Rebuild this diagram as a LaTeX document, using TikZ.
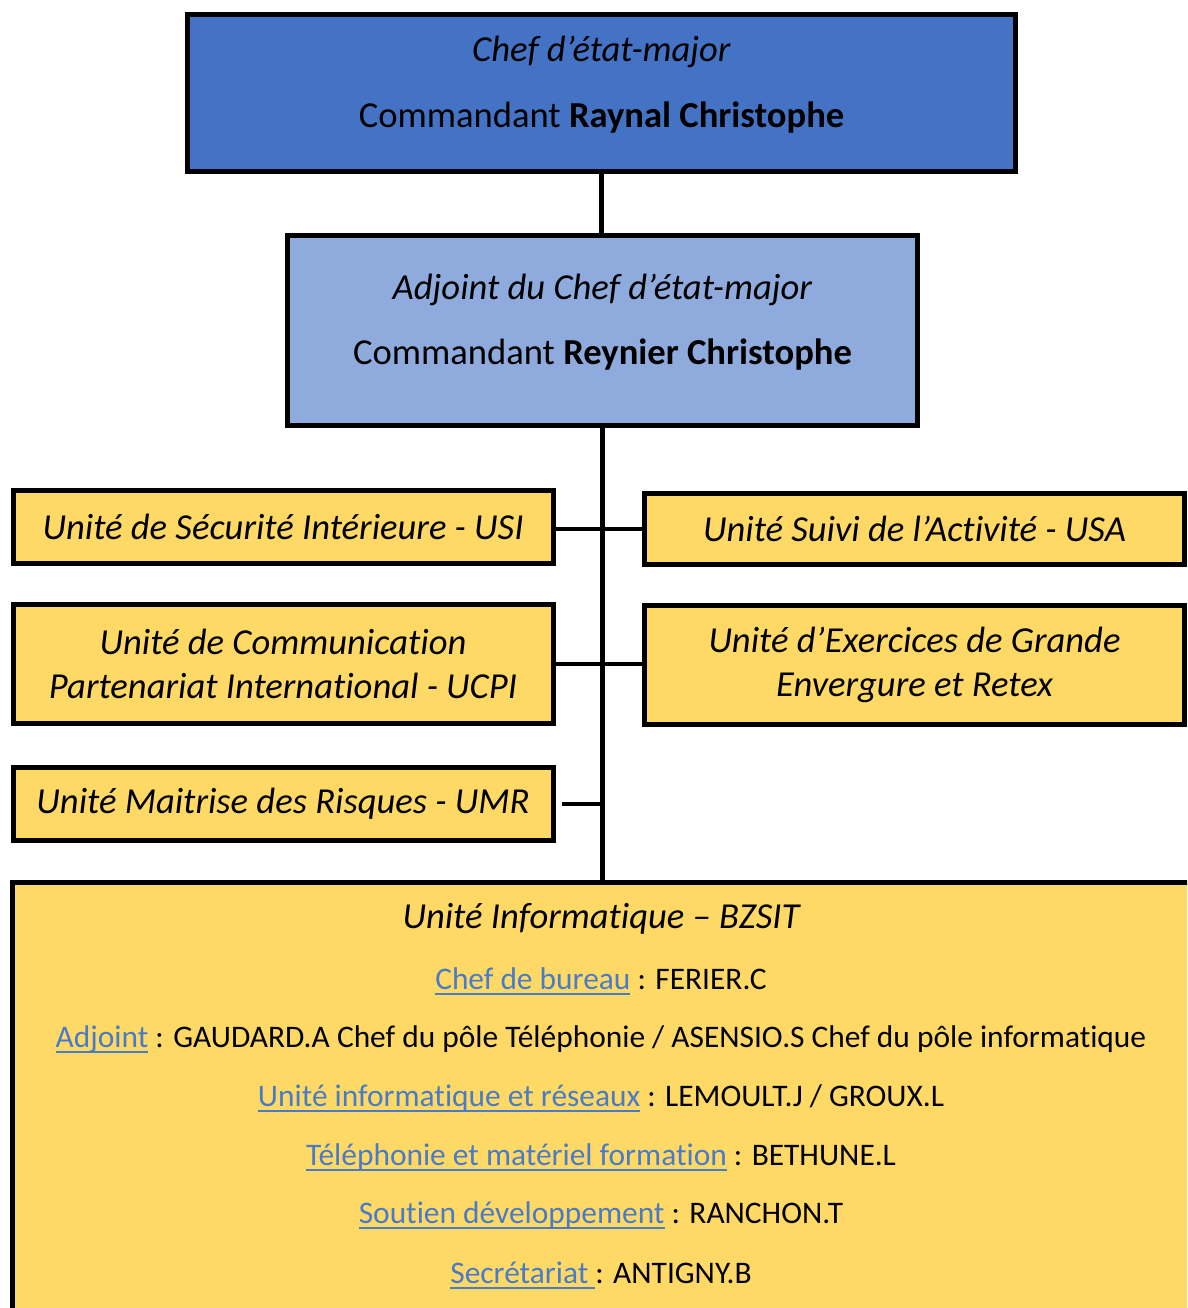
\documentclass[tikz,border=0pt]{standalone}
\usepackage{fontspec}
\setmainfont{Carlito}[Ligatures=NoCommon]
\usepackage{xcolor}
\usepackage{tikz}
\usetikzlibrary{positioning}

\definecolor{chefblue}{HTML}{4472C4}
\definecolor{adjblue}{HTML}{8FAADC}
\definecolor{unitgold}{HTML}{FFD966}
\definecolor{linkblue}{HTML}{4A7BC8}

\newcommand{\boxfont}{\fontsize{36.6}{44}\selectfont}
\newcommand{\rowfont}{\fontsize{31.4}{36}\selectfont}
% underlined link text, Word style
\newcommand{\lien}[1]{{\color{linkblue}\setbox0\hbox{#1}\rlap{\rule[-6pt]{\wd0}{1.6pt}}\box0}}

\begin{document}
\begin{tikzpicture}[x=1pt, y=-1pt]

    % Style for boxes
    \tikzset{
        orgbox/.style={rectangle, draw=black, line width=5pt, inner sep=0pt, align=center, font=\boxfont},
        chefbox/.style={orgbox, fill=chefblue, text depth=22pt},
        adjbox/.style={orgbox, fill=adjblue, text depth=22pt},
        unitbox/.style={orgbox, fill=unitgold, minimum width=540pt},
        rowtext/.style={inner sep=0pt, anchor=base, font=\rowfont},
        link/.style={line width=5pt}
    }

    \clip (0,0) rectangle (1187,1308);

    % --- DRAW BOXES ---
    \node[chefbox, minimum width=828pt, minimum height=157pt] (chef) at (601.5,93)
        {\textit{Chef d’état-major}\\[22pt] Commandant \textbf{Raynal Christophe}};
    \node[adjbox, minimum width=630pt, minimum height=190pt] (adj) at (602.5,330.5)
        {\textit{Adjoint du Chef d’état-major}\\[21pt] Commandant \textbf{Reynier Christophe}};

    % left column
    \node[unitbox, minimum height=73pt] (usi) at (283,527) {\textit{Unité de Sécurité Intérieure - USI}};
    \node[unitbox, minimum height=119pt] (ucpi) at (283,664) {\textit{Unité de Communication}\\\textit{Partenariat International - UCPI}};
    \node[unitbox, minimum height=73pt] (umr) at (283,804) {\textit{Unité Maitrise des Risques - UMR}};

    % right column
    \node[unitbox, minimum height=71pt] (usa) at (914.5,529) {\textit{Unité Suivi de l’Activité - USA}};
    \node[unitbox, minimum height=119pt] (uege) at (914.5,665) {\textit{Unité d’Exercices de Grande}\\\textit{Envergure et Retex}};

    % BZSIT (runs off the page)
    \node[unitbox, anchor=north west, minimum width=1250pt, minimum height=500pt] (bz) at (10,880) {};
    \node[rowtext, font=\boxfont\itshape] (bztitle) at (601,928) {Unité Informatique – BZSIT};
    \node[rowtext] (row1) at (601,989) {\lien{Chef de bureau} : FERIER.C};
    \node[rowtext] (row2) at (601,1047) {\lien{Adjoint} : GAUDARD.A Chef du pôle Téléphonie / ASENSIO.S Chef du pôle informatique};
    \node[rowtext] (row3) at (601,1106) {\lien{Unité informatique et réseaux} : LEMOULT.J / GROUX.L};
    \node[rowtext] (row4) at (601,1165) {\lien{Téléphonie et matériel formation} : BETHUNE.L};
    \node[rowtext] (row5) at (601,1223) {\lien{Soutien développement} : RANCHON.T};
    \node[rowtext] (row6) at (601,1283) {\lien{Secrétariat }: ANTIGNY.B};

    % --- CONNECTIONS ---
    \draw[link] (chef.south) -- (chef.south |- adj.north);
    \draw[link] (adj.south) -- (adj.south |- bz.north);
    \draw[link, line width=4pt] (usa.west -| usi.east) -- (usa.west);
    \draw[link, line width=4pt] (ucpi.east) -- (ucpi.east -| uege.west);
    \draw[link, line width=4pt, shorten <=6pt] (umr.east) -- (umr.east -| adj.south);

\end{tikzpicture}
\end{document}
